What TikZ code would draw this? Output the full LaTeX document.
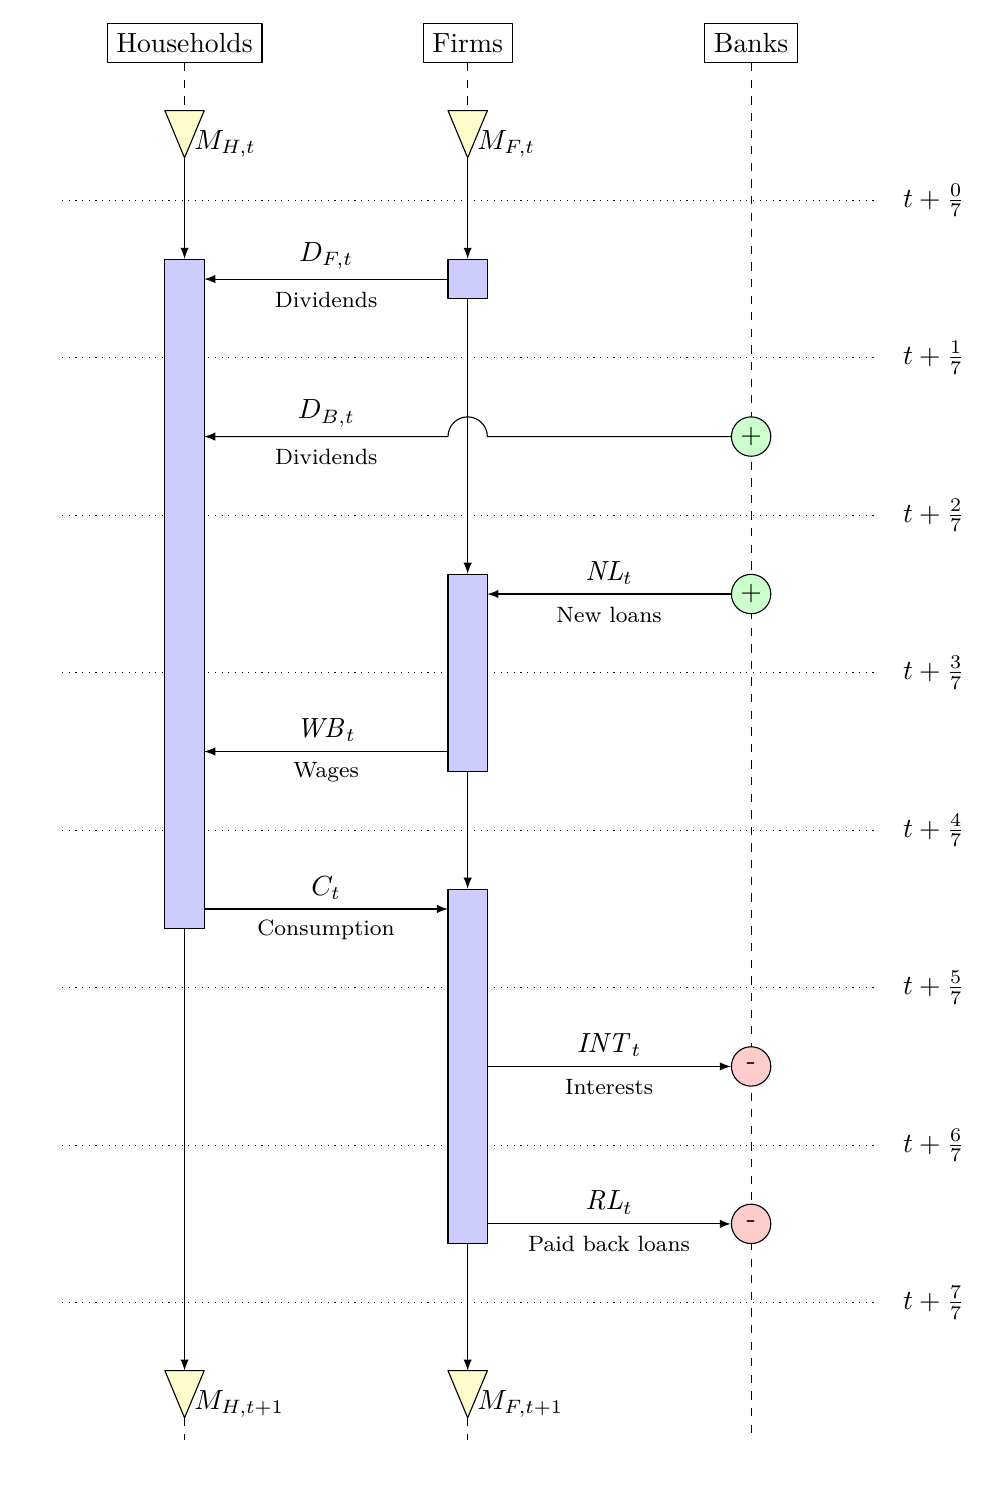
\documentclass[tikz,border=0pt]{standalone}
\usetikzlibrary{shapes.geometric}
\tikzset{
	actor/.style={draw,minimum height=.5cm},
	stock/.style={draw,fill=yellow!20,isosceles triangle,isosceles triangle stretches,shape border rotate=-90,minimum width=.5cm,minimum height=.6cm,inner sep=0pt,outer sep=0pt},
	period/.style={draw,fill=blue!20,minimum width=.5cm,inner sep=0pt},
	bankgain/.style={draw,fill=green!20,circle,minimum size=.5cm,inner sep=0pt},
	bankloss/.style={draw,fill=red!20,circle,minimum size=.5cm,inner sep=0pt},
	flowtext/.style={font=\footnotesize,yshift=-.26cm}
}
\begin{document}
\begin{tikzpicture}[>=latex,line join=round]
	\useasboundingbox (-2.35,2.545) rectangle (10.2,-16.545);
	\def \hx{-.006}
	\def \fx{3.59}
	\def \bx{7.19}
	% sectors
	\node[actor] (hh) at (\hx,2) {Households};
	\node[actor] (firms) at (\fx,2) {Firms};
	\node[actor] (banks) at (\bx,2) {Banks};
	\coordinate (hhend) at (\hx,-15.75);
	\coordinate (firmsend) at (\fx,-15.75);
	\coordinate (banksend) at (\bx,-15.66);
	\draw[dashed] (banks.south)--(banksend);
	% time steps
	\foreach \k in {0,...,7}{
		\coordinate (tl\k) at (-1.56,-2*\k);
		\coordinate (tr\k) at (8.76,-2*\k);
		\draw[dotted] (tl\k)--(tr\k);
		\node (time\k) at (9.51,-2*\k) {$t+\frac{\k}{7}$};
	}
	% stocks
	\node[stock] (mh0) at (\hx,.974) {};
	\node[stock] (mf0) at (\fx,.974) {};
	\node[stock] (mh1) at (\hx,-15.03) {};
	\node[stock] (mf1) at (\fx,-15.03) {};
	\node[anchor=west] (mh0txt) at (\hx,.72) {$M_{H,t}$};
	\node[anchor=west] (mf0txt) at (\fx,.72) {$M_{F,t}$};
	\node[anchor=west] (mh1txt) at (\hx,-15.29) {$M_{H,t+1}$};
	\node[anchor=west] (mf1txt) at (\fx,-15.29) {$M_{F,t+1}$};
	\draw[dashed] (hh.south)--(mh0.lower side);
	\draw[dashed] (firms.south)--(mf0.lower side);
	\draw[dashed] (mh1.apex)--(hhend);
	\draw[dashed] (mf1.apex)--(firmsend);
	% activity bars
	\node[period,minimum height=8.5cm] (hbar) at (\hx,-5) {};
	\node[period,minimum height=.5cm] (fbar1) at (\fx,-1) {};
	\node[period,minimum height=2.5cm] (fbar2) at (\fx,-6) {};
	\node[period,minimum height=4.5cm] (fbar3) at (\fx,-11) {};
	% bank entries
	\node[bankgain] (bdiv) at (\bx,-3) {$+$};
	\node[bankgain] (bnew) at (\bx,-5) {$+$};
	\node[bankloss] (bint) at (\bx,-11) {-};
	\node[bankloss] (brep) at (\bx,-13) {-};
	% vertical flows
	\draw[->] (mh0.apex)--(hbar.north);
	\draw[->] (hbar.south)--(mh1.lower side);
	\draw[->] (mf0.apex)--(fbar1.north);
	\draw[->] (fbar1.south)--(fbar2.north);
	\draw[->] (fbar2.south)--(fbar3.north);
	\draw[->] (fbar3.south)--(mf1.lower side);
	% payments
	\coordinate (c1) at (\hx+.25,-1);
	\coordinate (c2) at (\hx+.25,-3);
	\coordinate (c3) at (\hx+.25,-7);
	\coordinate (c4) at (\hx+.25,-9);
	\coordinate (c5) at (\fx-.25,-1);
	\coordinate (c6) at (\fx-.25,-7);
	\coordinate (c7) at (\fx-.25,-9);
	\coordinate (c8) at (\fx+.25,-5);
	\coordinate (c9) at (\fx+.25,-11);
	\coordinate (c10) at (\fx+.25,-13);
	\coordinate (jumpr) at (\fx+.25,-3);
	\coordinate (midb) at (\fx/2,-3);
	\draw[->] (c5)--(c1) node[midway,above] (dflab) {$D_{F,t}$} node[midway,flowtext] (dftxt) {Dividends};
	\draw[->] (bdiv.west)--(jumpr) arc (0:180:.25)--(c2);
	\node[above] (dblab) at (midb) {$D_{B,t}$};
	\node[flowtext] (dbtxt) at (midb) {Dividends};
	\draw[->] (bnew.west)--(c8) node[midway,above] (nllab) {$\mathit{NL}_t$} node[midway,flowtext] (nltxt) {New loans};
	\draw[->] (c6)--(c3) node[midway,above] (wblab) {$\mathit{WB}_t$} node[midway,flowtext] (wbtxt) {Wages};
	\draw[->] (c4)--(c7) node[midway,above] (clab) {$C_t$} node[midway,flowtext] (ctxt) {Consumption};
	\draw[->] (c9)--(bint.west) node[midway,above] (intlab) {$\mathit{INT}_t$} node[midway,flowtext] (inttxt) {Interests};
	\draw[->] (c10)--(brep.west) node[midway,above] (rllab) {$\mathit{RL}_t$} node[midway,flowtext] (rltxt) {Paid back loans};
\end{tikzpicture}
\end{document}
